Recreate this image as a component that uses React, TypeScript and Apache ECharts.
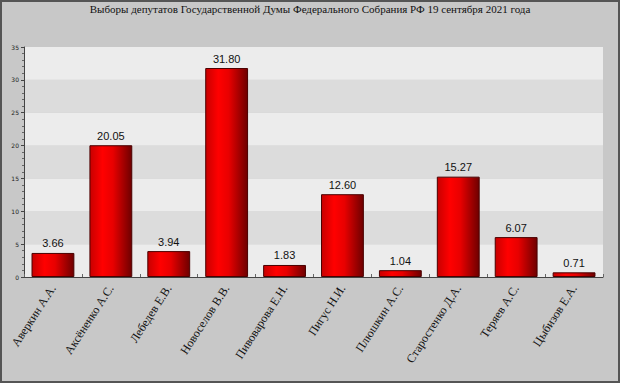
import React, { useEffect, useRef } from "react";
import * as echarts from "echarts";

const titleText = "Выборы депутатов Государственной Думы Федерального Собрания РФ 19 сентября 2021 года";
const categories = [
  "Аверкин А.А.",
  "Аксёненко А.С.",
  "Лебедев Е.В.",
  "Новоселов В.В.",
  "Пивоварова Е.Н.",
  "Пигус Н.И.",
  "Плюшкин А.С.",
  "Старостенко Д.А.",
  "Теряев А.С.",
  "Цыбизов Е.А.",
];
const values = [3.66, 20.05, 3.94, 31.8, 1.83, 12.6, 1.04, 15.27, 6.07, 0.71];

export default function App() {
  const ref = useRef<HTMLDivElement>(null);
  useEffect(() => {
    if (!ref.current) return;
    const chart = echarts.init(ref.current, null, { renderer: "svg" });
    const barGradient = new echarts.graphic.LinearGradient(0, 0, 1, 0, [
      { offset: 0, color: "#c80000" },
      { offset: 0.3, color: "#ff0000" },
      { offset: 0.55, color: "#e80000" },
      { offset: 1, color: "#6e0000" },
    ]);
    chart.setOption({
      animation: false,
      backgroundColor: "#c8c8c8",
      title: {
        text: titleText,
        left: "center",
        top: 1,
        padding: 0,
        textStyle: {
          fontFamily: "Liberation Serif",
          fontSize: 11,
          fontWeight: "normal",
          color: "#111",
        },
      },
      grid: { left: 22, right: 15, top: 45, bottom: 104 },
      xAxis: {
        type: "category",
        data: categories,
        axisLine: { show: true, lineStyle: { color: "#444", width: 1 } },
        axisTick: { show: true, inside: true, length: 3, lineStyle: { color: "#666" } },
        axisLabel: {
          rotate: 57,
          interval: 0,
          fontFamily: "Liberation Serif",
          fontSize: 12,
          color: "#111",
          margin: 9,
        },
      },
      yAxis: {
        type: "value",
        min: 0,
        max: 35,
        interval: 5,
        axisLine: { show: true, lineStyle: { color: "#444", width: 1 } },
        axisTick: { show: true, length: 3, lineStyle: { color: "#444" } },
        minorTick: { show: true, splitNumber: 5, length: 2, lineStyle: { color: "#666" } },
        axisLabel: {
          fontFamily: "Verdana, DejaVu Sans",
          fontSize: 6,
          color: "#222",
          margin: 5,
        },
        splitLine: { show: false },
        splitArea: {
          show: true,
          areaStyle: { color: ["#ececec", "#dcdcdc"] },
        },
      },
      series: [
        {
          type: "bar",
          data: values,
          barWidth: "74%",
          itemStyle: {
            color: barGradient,
            borderColor: "#4a0000",
            borderWidth: 1,
          },
          label: {
            show: true,
            position: "top",
            distance: 4,
            formatter: (p: any) => p.value.toFixed(2),
            fontFamily: "Liberation Sans",
            fontSize: 11,
            color: "#111",
          },
        },
      ],
    });
    return () => chart.dispose();
  }, []);
  return (
    <div
      style={{
        position: "fixed",
        left: 0,
        top: 0,
        width: 620,
        height: 383,
        boxSizing: "border-box",
        border: "2px solid #555",
        background: "#c8c8c8",
      }}
    >
      <div ref={ref} style={{ width: 616, height: 379 }} />
    </div>
  );
}
